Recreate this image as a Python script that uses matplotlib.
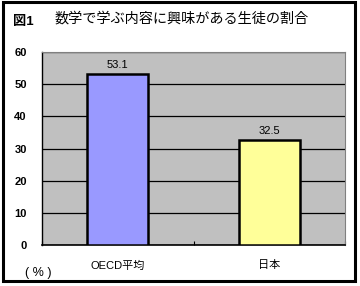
import matplotlib
matplotlib.use("Agg")
import matplotlib.pyplot as plt
from matplotlib.patches import Rectangle

plt.rcParams['font.family'] = ['Liberation Sans', 'Noto Sans CJK JP', 'DejaVu Sans']

categories = ["OECD平均", "日本"]
values = [53.1, 32.5]
colors = ["#9999FF", "#FFFF99"]
yticks = [0, 10, 20, 30, 40, 50, 60]

fig = plt.figure(figsize=(3.6, 2.86), dpi=100)
W, H = 360, 286
ax = fig.add_axes([42 / W, 1 - 245 / H, (345 - 42) / W, (245 - 52) / H])
ax.set_facecolor("#C0C0C0")

x = list(range(len(categories)))
ax.bar(x, values, width=0.4, color=colors, edgecolor="black", linewidth=1.8, zorder=3)
for xi, v in zip(x, values):
    ax.text(xi, v + 1.3, f"{v}", ha="center", va="bottom", fontsize=8, zorder=4)

ax.set_xlim(-0.5, len(categories) - 0.5)
ax.set_ylim(0, 60)
ax.set_yticks(yticks)
ax.set_yticklabels([str(t) for t in yticks], fontsize=8, fontweight="bold")
ax.yaxis.grid(True, color="black", linewidth=0.9, zorder=1)
ax.set_axisbelow(True)
ax.tick_params(axis="y", length=0, pad=11)
ax.set_xticks([-0.5, 0.5, 1.5])
ax.set_xticklabels([])
ax.tick_params(axis="x", direction="in", length=3, width=0.8)
for xi, c in zip(x, categories):
    ax.text(xi, -4.8, c, ha="center", va="top", fontsize=8)

ax.spines["left"].set_color("black")
ax.spines["bottom"].set_color("black")
ax.spines["left"].set_linewidth(1.0)
ax.spines["bottom"].set_linewidth(1.2)
ax.spines["top"].set_color("#808080")
ax.spines["right"].set_color("#808080")

fig.text(13 / W, 1 - 22 / H, "図1", fontsize=9.5, fontweight="bold", va="center", ha="left")
fig.text(55 / W, 1 - 19 / H, "数学で学ぶ内容に興味がある生徒の割合", fontsize=10.2, va="center", ha="left")
fig.text(25 / W, 1 - 273 / H, "( % )", fontsize=9, va="center", ha="left")

fig.patches.append(Rectangle((2.5 / W, 5.5 / H), 352.5 / W, 279 / H, transform=fig.transFigure,
                             fill=False, edgecolor="black", linewidth=2.2))

fig.savefig("out.png", dpi=100)
